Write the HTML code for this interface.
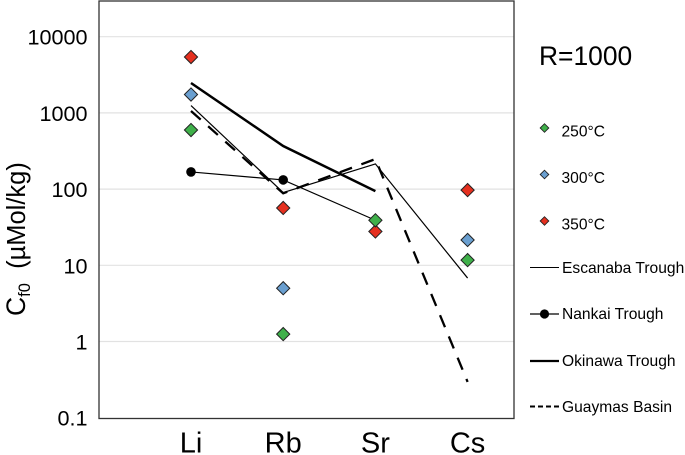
<!DOCTYPE html>
<html>
<head>
<meta charset="utf-8">
<style>
html,body{margin:0;padding:0;background:#fff;width:685px;height:455px;overflow:hidden}
svg{display:block}
text{font-family:"Liberation Sans",sans-serif;fill:#000}
</style>
</head>
<body>
<svg id="chart" width="685" height="455" viewBox="0 0 685 455" xmlns="http://www.w3.org/2000/svg">
<g id="grid"></g>
<g id="series"></g>
<g id="points"></g>
<rect x="99" y="1" width="415" height="417.5" fill="none" stroke="#333" stroke-width="1.3"/>
<g id="yticks"></g>
<g id="xticks"></g>
<text transform="translate(25,316) rotate(-90)" font-size="26.5">C<tspan font-size="16.5" dy="5">f0</tspan><tspan font-size="25.5" dy="-5" xml:space="preserve">  (µMol/kg)</tspan></text>
<text x="539" y="65" font-size="26.4">R=1000</text>
<g id="legend"></g>
</svg>
<script>
var categories = ["Li", "Rb", "Sr", "Cs"];
var yTickValues = [10000, 1000, 100, 10, 1, 0.1];
var yTickLabels = ["10000", "1000", "100", "10", "1", "0.1"];

var temp250 = [596, 1.25, 39, 11.7];
var temp300 = [1743, 5, null, 21.5];
var temp350 = [5410, 56.5, 27.8, 97];

var escanaba = [1250, 90, 214, 6.8];
var nankai = [168, 132, 39, null];
var okinawa = [2470, 368, 94, null];
var guaymas = [1060, 88, 248, 0.295];

var NS = "http://www.w3.org/2000/svg";
function x(i) { return 191 + i * 92.2; }
function y(v) { return 341.5 - 76.2 * (Math.log(v) / Math.LN10); }
function mk(parent, tag, attrs) {
  var e = document.createElementNS(NS, tag);
  for (var k in attrs) e.setAttribute(k, attrs[k]);
  parent.appendChild(e);
  return e;
}
function diamond(cx, cy, r) {
  return (cx - r) + "," + cy + " " + cx + "," + (cy - r) + " " + (cx + r) + "," + cy + " " + cx + "," + (cy + r);
}

var grid = document.getElementById("grid");
var yt = document.getElementById("yticks");
yTickValues.forEach(function (v, i) {
  if (v !== 0.1) {
    var g = mk(grid, "line", { x1: 99, x2: 514, y1: y(v), y2: y(v), stroke: "#e2e2e2", "stroke-width": 1.2 });
    
    
  }
  var t = mk(yt, "text", { x: 87.5, y: y(v) + 8, "text-anchor": "end", "font-size": 21.6 });
  
  
  t.textContent = yTickLabels[i];
});

var xt = document.getElementById("xticks");
categories.forEach(function (c, i) {
  var t = mk(xt, "text", { x: x(i), y: 452.5, "text-anchor": "middle", "font-size": 29 });
  
  
  t.textContent = c;
});

function pathOf(vals) {
  var pts = [];
  vals.forEach(function (v, i) { if (v !== null) pts.push(x(i) + "," + y(v)); });
  return pts.join(" ");
}
var sg = document.getElementById("series");

var l1 = mk(sg, "polyline", { points: pathOf(guaymas), fill: "none", stroke: "#000", "stroke-width": 2.3, "stroke-dasharray": "13 10" });



var l2 = mk(sg, "polyline", { points: pathOf(escanaba), fill: "none", stroke: "#000", "stroke-width": 1.2 });



var l3 = mk(sg, "polyline", { points: pathOf(nankai), fill: "none", stroke: "#000", "stroke-width": 1.2 });



var l4 = mk(sg, "polyline", { points: pathOf(okinawa), fill: "none", stroke: "#000", "stroke-width": 2.5 });



nankai.forEach(function (v, i) {
  if (v === null || i === 2) return;
  var c = mk(sg, "circle", { cx: x(i), cy: y(v), r: 4.8, fill: "#000" });
  
  
});

var pg = document.getElementById("points");
function drawPts(vals, color) {
  vals.forEach(function (v, i) {
    if (v === null) return;
    var d = mk(pg, "polygon", { points: diamond(x(i), y(v), 6.6), fill: color, stroke: "#222", "stroke-width": 1 });
    
    
  });
}
drawPts(temp300, "#6a9fd0");
drawPts(temp350, "#e5301f");
drawPts(temp250, "#3fb04a");

var lg = document.getElementById("legend");
function lgText(label, tx, ty) {
  var t = mk(lg, "text", { x: tx, y: ty, "font-size": 15.6 });
  
  
  t.textContent = label;
}
function lgDiamond(color, cy) {
  var d = mk(lg, "polygon", { points: diamond(544.5, cy, 4.3), fill: color, stroke: "#222", "stroke-width": 0.9 });
  
  
}
lgDiamond("#3fb04a", 128);
lgText("250°C", 561.5, 136.5);
lgDiamond("#6a9fd0", 174.5);
lgText("300°C", 561.5, 183);
lgDiamond("#e5301f", 221);
lgText("350°C", 561.5, 229.5);

function lgLine(cy, w, dash) {
  var a = { x1: 530, x2: 559, y1: cy, y2: cy, stroke: "#000", "stroke-width": w };
  if (dash) a["stroke-dasharray"] = dash;
  var l = mk(lg, "line", a);
  
  
}
lgLine(267.5, 1, null);
lgText("Escanaba Trough", 562, 273);
lgLine(314, 1.2, null);
var dot = mk(lg, "circle", { cx: 544.5, cy: 314, r: 4.6, fill: "#000" });


lgText("Nankai Trough", 562, 319);
lgLine(361, 2.2, null);
lgText("Okinawa Trough", 562, 366);
lgLine(406.5, 2, "5 3");
lgText("Guaymas Basin", 562, 412);
</script>
</body>
</html>
